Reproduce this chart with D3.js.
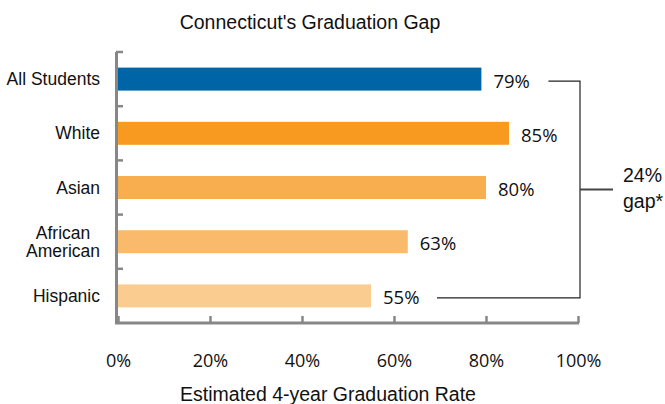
<!DOCTYPE html>
<html>
<head>
<meta charset="utf-8">
<script src="https://cdn.jsdelivr.net/npm/d3@7"></script>
<style>
  body { margin: 0; background: #fff; }
  text { fill: #111; }
</style>
</head>
<body>
<div id="chart"></div>
<script>
// data ---------------------------------------------------------------
const groups = ['All Students', 'White', 'Asian', 'African American', 'Hispanic'];
const rates = [79, 85, 80, 63, 55];
const barColors = ['#0065a7', '#f89a1f', '#f8ae4f', '#f9bb6b', '#fbcc90'];
const xTicks = [0, 20, 40, 60, 80, 100];
const chartTitle = "Connecticut's Graduation Gap";
const xTitle = 'Estimated 4-year Graduation Rate';

// layout -------------------------------------------------------------
const width = 665;
const height = 404;
const margin = {top: 52, right: 87, bottom: 81, left: 118};
const axisColor = '#878787';

const svg = d3.select('#chart').append('svg')
  .attr('width', width)
  .attr('height', height);

const x = d3.scaleLinear()
  .domain([0, 100])
  .range([margin.left, width - margin.right]);

const y = d3.scaleBand()
  .domain(groups)
  .range([margin.top, height - margin.bottom])
  .paddingInner(0.576)
  .paddingOuter(0.288);

const data = groups.map((g, i) => ({group: g, rate: rates[i], color: barColors[i]}));

// title
svg.append('text')
  .attr('x', 310)
  .attr('y', 29)
  .attr('text-anchor', 'middle')
  .style('font-family', '"Liberation Sans", Arial, sans-serif')
  .style('font-size', '19.5px')
  .text(chartTitle);

// bars
svg.append('g')
  .selectAll('rect')
  .data(data)
  .enter()
  .append('rect')
  .attr('x', x(0))
  .attr('y', d => y(d.group))
  .attr('width', d => x(d.rate) - x(0))
  .attr('height', y.bandwidth())
  .attr('fill', d => d.color);

// x axis (ticks pointing up)
const xAxis = svg.append('g')
  .attr('transform', 'translate(0,' + (height - margin.bottom) + ')')
  .call(d3.axisBottom(x)
    .tickValues(xTicks)
    .tickFormat(d => d + '%')
    .tickSize(-7)
    .tickSizeOuter(0)
    .tickPadding(31));
xAxis.select('.domain').remove();
xAxis.selectAll('.tick line')
  .attr('stroke', axisColor)
  .attr('stroke-width', 2.5);
xAxis.selectAll('.tick text')
  .style('font-family', '"Open Sans", sans-serif')
  .style('font-size', '18px')
  .attr('fill', '#111');

// y axis: line with ticks on band boundaries
const bounds = groups.map(g => y(g) - y.step() * y.paddingInner() / 2);
const yAxis = svg.append('g');
yAxis.selectAll('line.ytick')
  .data(bounds)
  .enter()
  .append('line')
  .attr('class', 'ytick')
  .attr('x1', x(0) - 2)
  .attr('x2', x(0) + 5)
  .attr('y1', d => d)
  .attr('y2', d => d)
  .attr('stroke', axisColor)
  .attr('stroke-width', 2.5);
yAxis.append('path')
  .attr('d', 'M' + (x(0) - 1.5) + ',' + margin.top + 'V' + (height - margin.bottom)
    + 'H' + (x(100) + 1))
  .attr('fill', 'none')
  .attr('stroke', axisColor)
  .attr('stroke-width', 3);

// category labels
const catLabels = svg.append('g')
  .style('font-family', '"Liberation Sans", Arial, sans-serif')
  .style('font-size', '17.5px');
data.forEach(d => {
  const lines = d.group === 'African American' ? ['African', 'American'] : [d.group];
  const cy = y(d.group) + y.bandwidth() / 2;
  const t = catLabels.append('text')
    .attr('text-anchor', lines.length > 1 ? 'middle' : 'end');
  lines.forEach((line, i) => {
    t.append('tspan')
      .attr('y', cy + (i - (lines.length - 1) / 2) * 18.5)
      .attr('dy', '0.35em')
      .text(line);
  });
  if (lines.length > 1) {
    const maxW = d3.max(t.selectAll('tspan').nodes(), n => n.getComputedTextLength());
    t.selectAll('tspan').attr('x', 100 - maxW / 2);
  } else {
    t.selectAll('tspan').attr('x', 100);
  }
});

// value labels
svg.append('g')
  .selectAll('text')
  .data(data)
  .enter()
  .append('text')
  .attr('x', d => x(d.rate) + 12)
  .attr('y', d => y(d.group) + y.bandwidth() / 2 + 2)
  .attr('dy', '0.35em')
  .style('font-family', '"Open Sans", sans-serif')
  .style('font-size', '18.5px')
  .text(d => d.rate + '%');

// gap bracket
const first = data[0];
const last = data[data.length - 1];
const gap = first.rate - last.rate;
const bx = 580;
const yTop = y(first.group) + y.bandwidth() / 2 + 2;
const yBot = y(last.group) + y.bandwidth() / 2 + 2;
const yMid = (yTop + yBot) / 2;
svg.append('path')
  .attr('d', 'M' + (x(first.rate) + 67) + ',' + yTop + 'H' + bx + 'V' + yBot
    + 'H' + (x(last.rate) + 66))
  .attr('fill', 'none')
  .attr('stroke', '#222')
  .attr('stroke-width', 1.2);
svg.append('line')
  .attr('x1', bx)
  .attr('x2', bx + 33)
  .attr('y1', yMid)
  .attr('y2', yMid)
  .attr('stroke', '#444')
  .attr('stroke-width', 2);
const gapText = svg.append('text')
  .style('font-family', '"Liberation Sans", Arial, sans-serif')
  .style('font-size', '19.5px');
gapText.append('tspan').attr('x', 623).attr('y', yMid - 8).text(gap + '%');
gapText.append('tspan').attr('x', 623).attr('y', yMid + 18).text('gap*');

// x axis title
svg.append('text')
  .attr('x', 328)
  .attr('y', 401)
  .attr('text-anchor', 'middle')
  .style('font-family', '"Liberation Sans", Arial, sans-serif')
  .style('font-size', '19.5px')
  .text(xTitle);
</script>
</body>
</html>
